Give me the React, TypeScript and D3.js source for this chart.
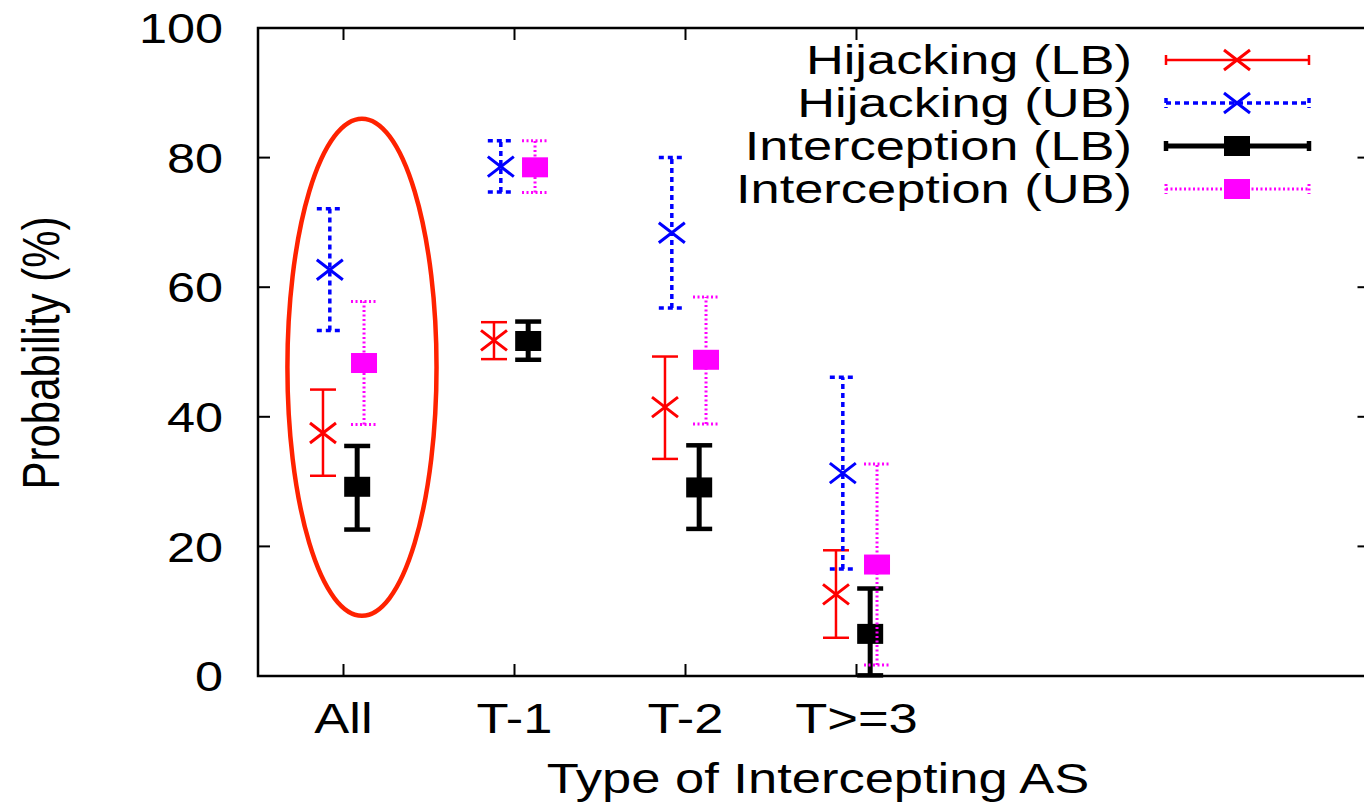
import React from "react";
import * as d3 from "d3";

// values (percent)
const categories = ["All", "T-1", "T-2", "T>=3"];
const yTicks = [0, 20, 40, 60, 80, 100];

const hijackLB = [37.5, 51.8, 41.5, 12.6];
const hijackLBLow = [30.9, 48.9, 33.5, 5.9];
const hijackLBHigh = [44.2, 54.6, 49.3, 19.4];

const hijackUB = [62.7, 78.6, 68.4, 31.3];
const hijackUBLow = [53.3, 74.7, 56.8, 16.5];
const hijackUBHigh = [72.1, 82.6, 80.0, 46.1];

const interLB = [29.2, 51.7, 29.1, 6.5];
const interLBLow = [22.6, 48.8, 22.7, 0.1];
const interLBHigh = [35.5, 54.7, 35.6, 13.5];

const interUB = [48.3, 78.5, 48.8, 17.2];
const interUBLow = [38.8, 74.6, 38.9, 1.7];
const interUBHigh = [57.8, 82.6, 58.5, 32.7];

const series = [
  { name: "Hijacking (LB)", mid: hijackLB, lo: hijackLBLow, hi: hijackLBHigh, offset: -0.12, color: "#ff0000", width: 2.5, dash: null, marker: "cross", capW: 2.5 },
  { name: "Hijacking (UB)", mid: hijackUB, lo: hijackUBLow, hi: hijackUBHigh, offset: -0.08, color: "#0000ff", width: 3.5, dash: "5,4", marker: "cross", capW: 3.5 },
  { name: "Interception (LB)", mid: interLB, lo: interLBLow, hi: interLBHigh, offset: 0.08, color: "#000000", width: 5, dash: null, marker: "square", capW: 4.5 },
  { name: "Interception (UB)", mid: interUB, lo: interUBLow, hi: interUBHigh, offset: 0.12, color: "#ff00ff", width: 3, dash: "2,2.5", marker: "square", capW: 3 },
];

const W = 1364;
const H = 808;
const SX = 1.25; // picture is stretched horizontally
const FS = 42;
const FONT = "'Liberation Sans', Arial, Helvetica, sans-serif";

const Marker = ({ type, x, y, color }) => {
  const hw = 13;
  const hh = 10;
  if (type === "cross") {
    return (
      <path
        d={`M${x - hw},${y - hh}L${x + hw},${y + hh}M${x - hw},${y + hh}L${x + hw},${y - hh}`}
        stroke={color}
        strokeWidth={3}
        fill="none"
      />
    );
  }
  return <rect x={x - hw} y={y - hh} width={hw * 2} height={hh * 2} fill={color} />;
};

const App = () => {
  const left = 258;
  const top = 28;
  const bottom = 676;

  const x = d3.scaleLinear().domain([0.5, 7]).range([left, left + 171 * 6.5]);
  const y = d3.scaleLinear().domain([0, 100]).range([bottom, top]);
  const right = x(7);

  const legendRows = [60, 103, 146, 189];
  const capHalf = 13;

  return (
    <svg width={W} height={H} style={{ position: "absolute", left: 0, top: 0, background: "#fff" }}>
      <g fontFamily={FONT} fill="#000">
        {/* frame */}
        <rect x={left} y={top} width={right - left} height={bottom - top} fill="none" stroke="#000" strokeWidth={2.5} />

        {/* y ticks + labels */}
        {yTicks.map((t) => (
          <g key={t}>
            {t > 0 && t < 100 && (
              <>
                <line x1={left} x2={left + 12} y1={y(t)} y2={y(t)} stroke="#000" strokeWidth={2} />
                <line x1={right - 12} x2={right} y1={y(t)} y2={y(t)} stroke="#000" strokeWidth={2} />
              </>
            )}
            <text
              transform={`translate(223,${y(t)}) scale(1.2,1)`}
              textAnchor="end"
              dy="0.36em"
              fontSize={FS}
            >
              {t}
            </text>
          </g>
        ))}

        {/* x ticks + labels */}
        {categories.map((c, i) => (
          <g key={c}>
            <line x1={x(i + 1)} x2={x(i + 1)} y1={bottom} y2={bottom - 12} stroke="#000" strokeWidth={2} />
            <line x1={x(i + 1)} x2={x(i + 1)} y1={top} y2={top + 12} stroke="#000" strokeWidth={2} />
            <text
              transform={`translate(${x(i + 1)},718) scale(${SX},1)`}
              textAnchor="middle"
              dy="0.36em"
              fontSize={FS}
            >
              {c}
            </text>
          </g>
        ))}

        {/* axis titles */}
        <text transform={`translate(818,778) scale(${SX},1)`} textAnchor="middle" dy="0.36em" fontSize={FS}>
          Type of Intercepting AS
        </text>
        <text transform={`translate(40,353) scale(${SX},1) rotate(-90)`} textAnchor="middle" dy="0.36em" fontSize={FS}>
          Probability (%)
        </text>

        {/* highlight ellipse around "All" */}
        <ellipse
          cx={x(1.108)}
          cy={y(47.65)}
          rx={x(1.108 + 0.436) - x(1.108)}
          ry={y(47.65 - 38.35) - y(47.65)}
          fill="none"
          stroke="#ff2200"
          strokeWidth={4.5}
        />

        {/* error bars */}
        {series.map((s) => (
          <g key={s.name}>
            {s.mid.map((v, i) => {
              const cx = x(i + 1 + s.offset);
              return (
                <g key={i}>
                  <line x1={cx} x2={cx} y1={y(s.lo[i])} y2={y(s.hi[i])} stroke={s.color} strokeWidth={s.width} strokeDasharray={s.dash || undefined} />
                  <line x1={cx - capHalf} x2={cx + capHalf} y1={y(s.lo[i])} y2={y(s.lo[i])} stroke={s.color} strokeWidth={s.capW} strokeDasharray={s.dash || undefined} />
                  <line x1={cx - capHalf} x2={cx + capHalf} y1={y(s.hi[i])} y2={y(s.hi[i])} stroke={s.color} strokeWidth={s.capW} strokeDasharray={s.dash || undefined} />
                  <Marker type={s.marker} x={cx} y={y(v)} color={s.color} />
                </g>
              );
            })}
          </g>
        ))}

        {/* legend */}
        {series.map((s, k) => {
          const ly = legendRows[k];
          return (
            <g key={s.name}>
              <text transform={`translate(1132,${ly}) scale(1.31,1)`} textAnchor="end" dy="0.36em" fontSize={40}>
                {s.name}
              </text>
              <line x1={1166} x2={1309} y1={ly} y2={ly} stroke={s.color} strokeWidth={s.width} strokeDasharray={s.dash || undefined} />
              <line x1={1166} x2={1166} y1={ly - 5} y2={ly + 5} stroke={s.color} strokeWidth={s.capW} strokeDasharray={s.dash || undefined} />
              <line x1={1309} x2={1309} y1={ly - 5} y2={ly + 5} stroke={s.color} strokeWidth={s.capW} strokeDasharray={s.dash || undefined} />
              <Marker type={s.marker} x={1237} y={ly} color={s.color} />
            </g>
          );
        })}
      </g>
    </svg>
  );
};

export default App;
